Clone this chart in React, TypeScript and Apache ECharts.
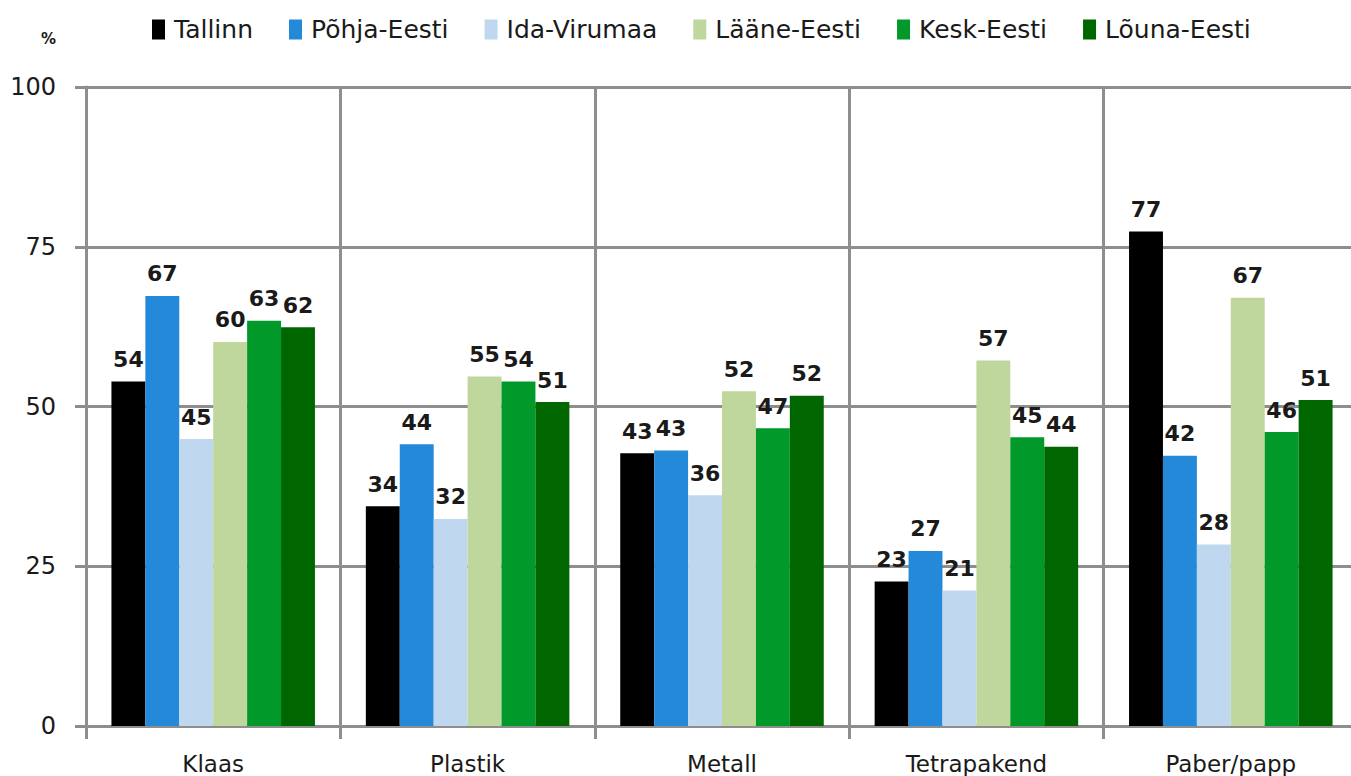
import React, { useEffect, useRef } from "react";
import * as echarts from "echarts";

const categories = ["Klaas", "Plastik", "Metall", "Tetrapakend", "Paber/papp"];
const seriesNames = ["Tallinn", "Põhja-Eesti", "Ida-Virumaa", "Lääne-Eesti", "Kesk-Eesti", "Lõuna-Eesti"];
const tallinn = [53.9, 34.4, 42.7, 22.6, 77.4];
const pohjaEesti = [67.3, 44.1, 43.1, 27.4, 42.3];
const idaVirumaa = [44.9, 32.4, 36.1, 21.2, 28.4];
const laaneEesti = [60.1, 54.7, 52.4, 57.2, 67.0];
const keskEesti = [63.4, 53.9, 46.6, 45.2, 46.0];
const lounaEesti = [62.4, 50.7, 51.7, 43.7, 51.0];
const seriesValues = [tallinn, pohjaEesti, idaVirumaa, laaneEesti, keskEesti, lounaEesti];
const colors = ["#000000", "#2389d8", "#bfd8f0", "#bfd79c", "#00992a", "#006600"];
const yTicks = [0, 25, 50, 75, 100];

const FONT = "DejaVu Sans";

export default function App() {
  const ref = useRef<HTMLDivElement>(null);
  useEffect(() => {
    if (!ref.current) return;
    const chart = echarts.init(ref.current, null, { renderer: "svg" });
    const gridLine = { color: "#8e8e8e", width: 3 };
    chart.setOption({
      animation: false,
      backgroundColor: "#ffffff",
      color: colors,
      textStyle: { fontFamily: FONT },
      legend: {
        left: 152,
        top: 17,
        padding: 0,
        itemWidth: 13,
        itemHeight: 20,
        itemGap: 36,
        icon: "rect",
        textStyle: { fontFamily: FONT, fontSize: 25, color: "#1a1a1a", padding: [0, 0, 0, 4] },
        data: seriesNames,
      },
      graphic: [
        {
          type: "text",
          left: 41,
          top: 31,
          style: { text: "%", font: `bold 15px "${FONT}"`, fill: "#1a1a1a" },
        },
      ],
      grid: { left: 86, top: 87, width: 1272, height: 639, containLabel: false },
      xAxis: {
        type: "category",
        data: categories,
        axisLine: { show: true, lineStyle: gridLine },
        axisTick: { show: true, length: 13, lineStyle: gridLine, alignWithLabel: false },
        splitLine: { show: true, lineStyle: gridLine },
        axisLabel: { fontFamily: FONT, fontSize: 23, color: "#1a1a1a", margin: 26 },
      },
      yAxis: {
        type: "value",
        min: 0,
        max: 100,
        interval: 25,
        axisLine: { show: true, lineStyle: gridLine },
        axisTick: { show: true, length: 11, lineStyle: gridLine },
        splitLine: { show: true, lineStyle: gridLine },
        axisLabel: {
          fontFamily: FONT,
          fontSize: 24,
          color: "#1a1a1a",
          margin: 30,
          formatter: (v: number) => (yTicks.includes(v) ? String(v) : ""),
        },
      },
      series: seriesNames.map((name, i) => ({
        name,
        type: "bar",
        data: seriesValues[i],
        barGap: "0%",
        barCategoryGap: "20%",
        itemStyle: { color: colors[i] },
        label: {
          show: true,
          position: "top",
          distance: 11,
          fontFamily: FONT,
          fontWeight: "bold",
          fontSize: 22,
          color: "#1a1a1a",
          formatter: (p: any) => String(Math.round(p.value)),
        },
      })),
    });
    return () => chart.dispose();
  }, []);
  return (
    <div style={{ position: "absolute", left: 0, top: 0, width: 1351, height: 776, overflow: "hidden" }}>
      <div ref={ref} style={{ width: 1370, height: 776 }} />
    </div>
  );
}
